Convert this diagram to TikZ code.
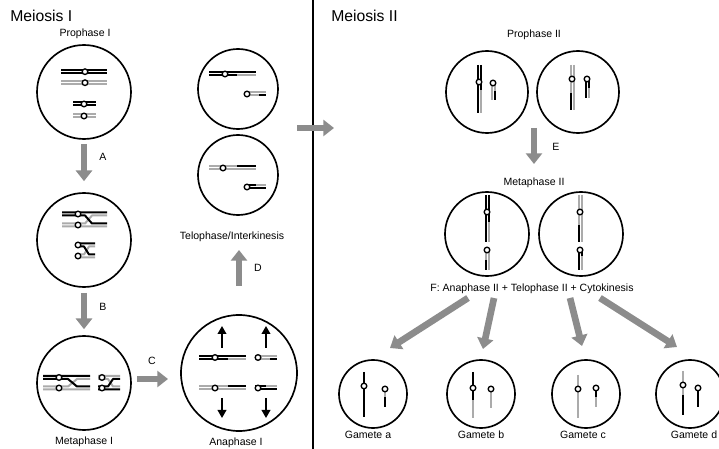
\documentclass[tikz,border=0pt]{standalone}
\usepackage{fontspec}
\setmainfont{Liberation Sans}
\usetikzlibrary{arrows.meta}
\definecolor{chromgray}{HTML}{ABABAB}
\definecolor{arrowgray}{HTML}{8C8C8C}
\newcommand\centro[1]{\draw[cen] #1 circle[radius=2.8];}
\begin{document}
\begin{tikzpicture}[x=0.75pt,y=-0.75pt,
  cell/.style={circle,draw=black,line width=1.25pt,inner sep=0pt},
  blk/.style={draw=black,line width=1.5pt,line join=round},
  gry/.style={draw=chromgray,line width=1.5pt,line join=round},
  blks/.style={draw=black,line width=1.7pt},
  grys/.style={draw=chromgray,line width=1.7pt},
  cen/.style={draw=black,fill=white,line width=1pt},
  garrow/.style={draw=arrowgray,line width=5pt,-{Triangle[length=8pt,width=12pt]}},
  karrow/.style={draw=black,line width=1.2pt,-{Triangle[length=6pt,width=6.5pt]}},
  lbl/.style={font=\fontsize{7.9pt}{9pt}\selectfont,inner sep=0pt},
  heading/.style={font=\fontsize{11.8pt}{14pt}\selectfont,inner sep=0pt},
  divider/.style={draw=black,line width=1.1pt}]
\clip (0,0) rectangle (719,449);
\fill[white] (0,0) rectangle (719,449);

% headings and divider
\node[heading,anchor=base west] (h1) at (10,22) {Meiosis I};
\node[heading,anchor=base west] (h2) at (331,22) {Meiosis II};
\draw[divider] (313,0) -- (313,449);

% cells
\node[cell,minimum size=70.5pt] (p1) at (84,92) {};
\node[cell,minimum size=70.5pt] (p2) at (84,240) {};
\node[cell,minimum size=70.5pt] (m1) at (84,383) {};
\node[cell,minimum size=87pt] (a1) at (239,373) {};
\node[cell,minimum size=60pt] (t1) at (238,89) {};
\node[cell,minimum size=60pt] (t2) at (238,175) {};
\node[cell,minimum size=61.5pt] (q1) at (487,92) {};
\node[cell,minimum size=61.5pt] (q2) at (578,92) {};
\node[cell,minimum size=63pt] (n1) at (487,234) {};
\node[cell,minimum size=63pt] (n2) at (581,234) {};
\node[cell,minimum size=51pt] (g1) at (373,394) {};
\node[cell,minimum size=51pt] (g2) at (481,394) {};
\node[cell,minimum size=51pt] (g3) at (586,394) {};
\node[cell,minimum size=51pt] (g4) at (690,394) {};

% stage labels
\node[lbl,anchor=base] (lp1) at (85,37) {Prophase I};
\node[lbl,anchor=base] (lm1) at (84,445) {Metaphase I};
\node[lbl,anchor=base] (la1) at (236,446) {Anaphase I};
\node[lbl,anchor=base] (lt) at (232,240) {Telophase/Interkinesis};
\node[lbl,anchor=base] (lq) at (534,38) {Prophase II};
\node[lbl,anchor=base] (ln) at (534,186) {Metaphase II};
\node[lbl,anchor=base] (lf) at (532,292) {F: Anaphase II + Telophase II + Cytokinesis};
\node[lbl,anchor=base] (lg1) at (368,439) {Gamete a};
\node[lbl,anchor=base] (lg2) at (481,439) {Gamete b};
\node[lbl,anchor=base] (lg3) at (583,439) {Gamete c};
\node[lbl,anchor=base] (lg4) at (694,439) {Gamete d};

% step letters
\node[lbl] (sa) at (103,157) {A};
\node[lbl] (sb) at (103,307) {B};
\node[lbl] (sc) at (152,361) {C};
\node[lbl] (sd) at (258,268) {D};
\node[lbl] (se) at (556,147) {E};

% step arrows
\draw[garrow,shorten <=3pt,shorten >=8.25pt] (p1.south) -- (p2.north);
\draw[garrow,shorten <=3.75pt,shorten >=4.5pt] (p2.south) -- (m1.north);
\coordinate (c0) at (137,379); \coordinate (c1) at (168,379);
\draw[garrow] (c0) -- (c1);
\coordinate (d0) at (239,286); \coordinate (d1) at (239,250);
\draw[garrow] (d0) -- (d1);
\coordinate (x0) at (297,128); \coordinate (x1) at (334,128);
\draw[garrow] (x0) -- (x1);
\coordinate (e0) at (534,128); \coordinate (e1) at (534,164);
\draw[garrow] (e0) -- (e1);
\coordinate (fa0) at (468,298); \coordinate (fa1) at (390,348);
\coordinate (fb0) at (494,298); \coordinate (fb1) at (483,349);
\coordinate (fc0) at (570,298); \coordinate (fc1) at (582,346);
\coordinate (fd0) at (600,298); \coordinate (fd1) at (677,347);
\draw[garrow] (fa0) -- (fa1);
\draw[garrow] (fb0) -- (fb1);
\draw[garrow] (fc0) -- (fc1);
\draw[garrow] (fd0) -- (fd1);

% Prophase I: two homologous pairs
\draw[gry] (61,81.2)--(107,81.2) (61,84.2)--(107,84.2);
\draw[blk] (61,70.2)--(107,70.2) (61,73.2)--(107,73.2);
\draw[gry] (73,114.5)--(96,114.5) (73,117.5)--(96,117.5);
\draw[blk] (73,102.5)--(96,102.5) (73,105.5)--(96,105.5);
\centro{(85,71.7)} \centro{(85,82.7)} \centro{(84,104)} \centro{(84,116)}

% crossing over
\draw[gry] (62,226.5)--(107,226.5) (62,223.5)--(85,223.5)--(92,215.5)--(107,215.5);
\draw[blk] (62,212.5)--(107,212.5) (62,215.5)--(85,215.5)--(92,223.5)--(107,223.5);
\centro{(78,214)} \centro{(78,225)}
\draw[gry] (76,257.5)--(95,257.5) (76,254.5)--(84,254.5)--(89,246.5)--(95,246.5);
\draw[blk] (76,243.5)--(95,243.5) (76,246.5)--(84,246.5)--(89,254.5)--(95,254.5);
\centro{(78,245)} \centro{(78,256)}

% Metaphase I
\draw[gry] (43,389.5)--(90,389.5) (43,386.5)--(68,386.5)--(77,379)--(90,379);
\draw[blk] (43,376)--(90,376) (43,379)--(68,379)--(77,386.5)--(90,386.5);
\centro{(59,377.5)} \centro{(59,388)}
\draw[gry] (98,376)--(120,376) (98,379)--(108,379)--(113,386.5)--(120,386.5);
\draw[blk] (98,389.5)--(120,389.5) (98,386.5)--(108,386.5)--(113,379)--(120,379);
\centro{(102,377.5)} \centro{(102,388)}

% Anaphase I
\draw[gry] (228,359)--(246,359);
\draw[blk] (199,356)--(246,356) (199,359)--(228,359);
\draw[gry] (255,356)--(277,356) (255,359)--(270,359);
\draw[blk] (270,359)--(277,359);
\draw[gry] (199,386.5)--(228,386.5) (199,389.5)--(246,389.5);
\draw[blk] (228,386.5)--(246,386.5);
\draw[gry] (266,386.5)--(277,386.5);
\draw[blk] (255,386.5)--(266,386.5) (255,389.5)--(277,389.5);
\centro{(215,357.5)} \centro{(258,357.5)} \centro{(215,388)} \centro{(258,388)}
\draw[karrow] (222,348)--(222,326);
\draw[karrow] (266,348)--(266,326);
\draw[karrow] (222,398)--(222,418);
\draw[karrow] (266,398)--(266,418);

% Telophase / interkinesis
\draw[blk] (209,72.5)--(256,72.5) (209,75.5)--(237,75.5);
\draw[gry] (237,75.5)--(256,75.5);
\draw[gry] (245,92.5)--(266,92.5) (245,95.5)--(259,95.5);
\draw[blk] (259,95.5)--(266,95.5);
\centro{(225,74)} \centro{(247,94)}
\draw[gry] (209,166.5)--(237,166.5) (209,169.5)--(256,169.5);
\draw[blk] (237,166.5)--(256,166.5);
\draw[blk] (245,185.5)--(256,185.5) (245,188.5)--(266,188.5);
\draw[gry] (256,185.5)--(266,185.5);
\centro{(223,168)} \centro{(247,187)}

% Prophase II
\draw[blk] (477.5,65)--(477.5,113) (480.5,65)--(480.5,90);
\draw[gry] (480.5,90)--(480.5,113);
\draw[gry] (491.5,81)--(491.5,100) (494.5,81)--(494.5,91);
\draw[blk] (494.5,91)--(494.5,100);
\centro{(479,82)} \centro{(493,83)}
\draw[gry] (570.5,65)--(570.5,93) (573.5,65)--(573.5,110);
\draw[blk] (570.5,93)--(570.5,110);
\draw[blk] (585.5,77)--(585.5,98) (588.5,77)--(588.5,88);
\draw[gry] (588.5,88)--(588.5,98);
\centro{(572,79)} \centro{(587,79)}

% Metaphase II
\draw[blk] (485.5,195)--(485.5,242) (488.5,195)--(488.5,222);
\draw[gry] (488.5,222)--(488.5,242);
\draw[gry] (485.5,248)--(485.5,260) (488.5,248)--(488.5,270);
\draw[blk] (485.5,260)--(485.5,270);
\centro{(487,212)} \centro{(487,250)}
\draw[gry] (578.5,195)--(578.5,225) (581.5,195)--(581.5,242);
\draw[blk] (578.5,225)--(578.5,242);
\draw[blk] (578.5,248)--(578.5,270) (581.5,248)--(581.5,256);
\draw[gry] (581.5,256)--(581.5,270);
\centro{(580,212)} \centro{(580,250)}

% gametes
\draw[blks] (364,372)--(364,417);
\draw[grys] (385,389)--(385,397);
\draw[blks] (385,397)--(385,407);
\centro{(364,386)} \centro{(385,389)}
\draw[blks] (473,372)--(473,400);
\draw[grys] (473,400)--(473,418);
\draw[grys] (491,389)--(491,408);
\centro{(473,388)} \centro{(491,389)}
\draw[grys] (578,375)--(578,418);
\draw[blks] (596,388)--(596,397);
\draw[grys] (596,397)--(596,407);
\centro{(578,389)} \centro{(596,388)}
\draw[grys] (683,371)--(683,395);
\draw[blks] (683,395)--(683,415);
\draw[blks] (698,388)--(698,407);
\centro{(683,385)} \centro{(698,388)}
\end{tikzpicture}
\end{document}
